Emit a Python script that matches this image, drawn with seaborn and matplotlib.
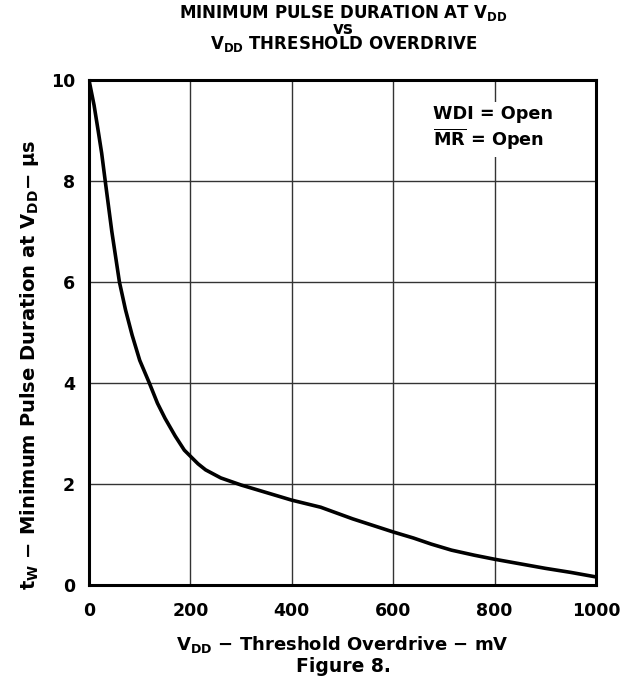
import numpy as np
import pandas as pd
import matplotlib
matplotlib.use("Agg")
import matplotlib.pyplot as plt
import seaborn as sns

# values
overdrive_mv = [0, 10, 18, 25, 32, 45, 60, 72, 85, 100, 119, 135, 150, 170, 188, 200,
                215, 230, 260, 300, 350, 400, 457, 520, 600, 640, 675, 715, 760,
                800, 850, 900, 950, 1000]
pulse_us = [10.0, 9.5, 9.0, 8.55, 8.0, 7.0, 6.0, 5.45, 4.95, 4.45, 4.0, 3.6, 3.3, 2.95, 2.67, 2.55,
            2.4, 2.28, 2.12, 1.98, 1.83, 1.68, 1.54, 1.31, 1.05, 0.93, 0.81, 0.69, 0.59,
            0.51, 0.42, 0.33, 0.25, 0.16]

x_ticks = [0, 200, 400, 600, 800, 1000]
y_ticks = [0, 2, 4, 6, 8, 10]

df = pd.DataFrame({"overdrive": overdrive_mv, "pulse": pulse_us})

sns.set_theme(style="white")
plt.rcParams["font.family"] = ["DejaVu Sans"]
plt.rcParams["font.weight"] = "bold"
plt.rcParams["text.color"] = "black"
plt.rcParams["axes.labelcolor"] = "black"
plt.rcParams["xtick.color"] = "black"
plt.rcParams["ytick.color"] = "black"
plt.rcParams["mathtext.fontset"] = "custom"
plt.rcParams["mathtext.rm"] = "DejaVu Sans:bold"
plt.rcParams["mathtext.bf"] = "DejaVu Sans:bold"
plt.rcParams["mathtext.it"] = "DejaVu Sans:bold"

fig = plt.figure(figsize=(6.21, 6.85), dpi=100)
ax = fig.add_axes([89 / 621, 1 - 585 / 685, 507 / 621, 505 / 685])

sns.lineplot(data=df, x="overdrive", y="pulse", color="black", linewidth=2.6, ax=ax)

ax.set_xlim(0, 1000)
ax.set_ylim(0, 10)
ax.set_xticks(x_ticks)
ax.set_yticks(y_ticks)
ax.grid(True, color="#333333", linewidth=1.0)
for s in ax.spines.values():
    s.set_color("black")
    s.set_linewidth(2.2)
ax.tick_params(axis="x", labelsize=12.5, length=0, pad=12)
ax.tick_params(axis="y", labelsize=12.5, length=0, pad=10)
for lab in ax.get_xticklabels() + ax.get_yticklabels():
    lab.set_fontweight("bold")

ax.set_xlabel(r"$\mathbf{V_{DD}}$ $-$ Threshold Overdrive $-$ mV", fontsize=13,
              fontweight="bold", labelpad=10)
ax.set_ylabel(r"$\mathbf{t_{W}}$ $-$ Minimum Pulse Duration at $\mathbf{V_{DD}}$$-$ μs",
              fontsize=14, fontweight="bold")
ax.yaxis.set_label_coords(-0.094, 0.436)

title = (r"MINIMUM PULSE DURATION AT $\mathbf{V_{DD}}$" + "\nvs\n"
         + r"$\mathbf{V_{DD}}$ THRESHOLD OVERDRIVE")
fig.text(0.553, 1 - 3 / 685, title, ha="center", va="top", fontsize=12,
         fontweight="bold", linespacing=0.76)
fig.text(0.553, 1 - 666 / 685, "Figure 8.", ha="center", va="center", fontsize=13.5,
         fontweight="bold")

ax.text(0.678, 0.95, "WDI = Open\n" + r"$\overline{\mathbf{MR}}$ = Open", transform=ax.transAxes,
        ha="left", va="top", fontsize=12.7, fontweight="bold", linespacing=1.15,
        bbox=dict(facecolor="white", edgecolor="none", pad=4))

fig.savefig("out.png", dpi=100)
